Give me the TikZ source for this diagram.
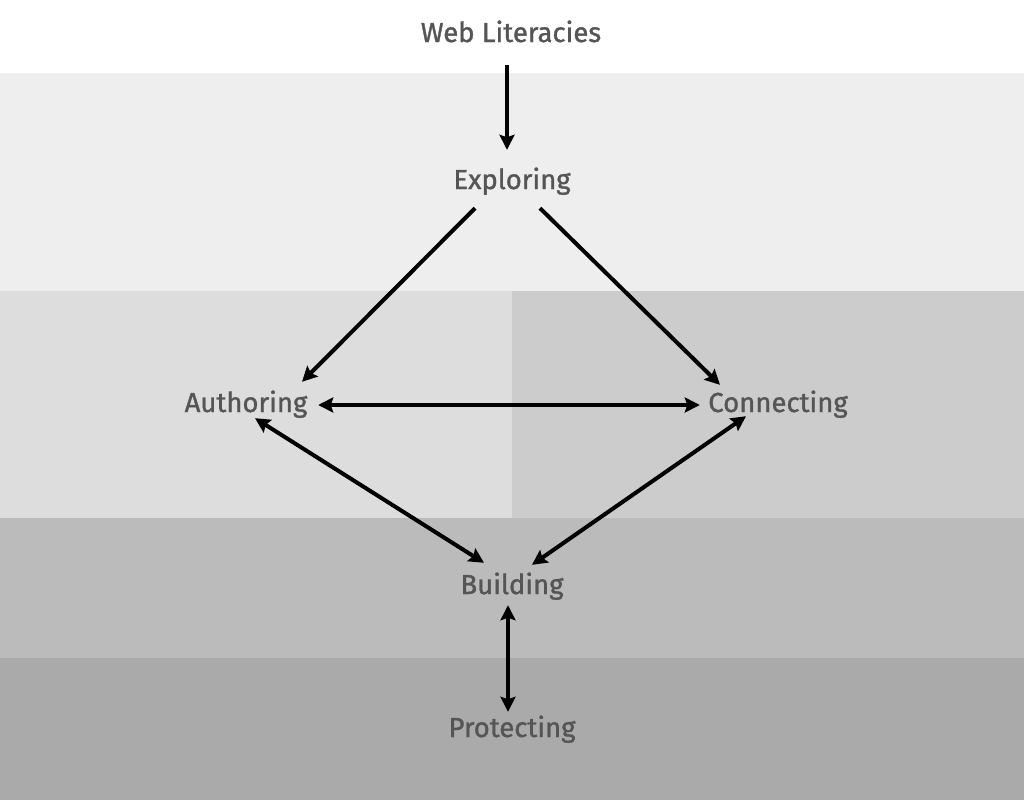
\documentclass[tikz,border=0pt]{standalone}
\usepackage{fontspec}
\setmainfont{Fira Sans}[FakeBold=1.2]
\usepackage{xcolor}
\usepackage{tikz}
\usetikzlibrary{arrows.meta}
\definecolor{bandA}{HTML}{EEEEEE}
\definecolor{bandB}{HTML}{DDDDDD}
\definecolor{bandC}{HTML}{CCCCCC}
\definecolor{bandD}{HTML}{BBBBBB}
\definecolor{bandE}{HTML}{AAAAAA}
\definecolor{lbl}{HTML}{555555}

\begin{document}
\begin{tikzpicture}[x=1pt, y=-1pt, >={Stealth[length=15pt,width=15pt,inset=2.5pt]},
    lit/.style={inner sep=0pt, text=lbl, text height=25pt, text depth=5pt,
      font=\fontsize{27.5}{30}\selectfont},
    link/.style={line width=4pt, ->},
    both/.style={line width=4pt, <->}]
    \useasboundingbox (0,0) rectangle (1024,800);
    % bands
    \fill[white] (0,0) rectangle (1024,73);
    \fill[bandA] (0,73) rectangle (1024,291);
    \fill[bandB] (0,291) rectangle (512,518);
    \fill[bandC] (512,291) rectangle (1024,518);
    \fill[bandD] (0,518) rectangle (1024,658);
    \fill[bandE] (0,658) rectangle (1024,800);

    \node[lit, minimum height=66pt] (web) at (511, 32) {Web Literacies};
    \node[lit, minimum height=58pt] (ex) at (512, 179) {Exploring};
    \node[lit, minimum width=144pt, minimum height=40pt] (au) at (246, 402) {Authoring};
    \node[lit, minimum width=156pt, minimum height=40pt] (co) at (778, 402) {Connecting};
    \node[lit, minimum height=42pt] (bu) at (512, 584) {Building};
    \node[lit, minimum height=24pt] (pr) at (512, 727) {Protecting};

    \draw[link] ([xshift=-4pt]web.south) -- ([xshift=-5pt]ex.north);
    \draw[link] ([xshift=-37pt]ex.south) -- ([xshift=56pt]au.north);
    \draw[link] ([xshift=28pt]ex.south) -- ([xshift=-58pt,yshift=-3pt]co.north);
    \draw[both] ([yshift=-3pt]au.east) -- ([yshift=-3pt]co.west);
    \draw[both] ([xshift=9pt,yshift=4pt]au.south) -- ([xshift=-28pt]bu.north);
    \draw[both] ([xshift=-32pt,yshift=6pt]co.south) -- ([xshift=20pt,yshift=-2pt]bu.north);
    \draw[both] ([xshift=-4pt]bu.south) -- ([xshift=-4pt]pr.north);
\end{tikzpicture}
\end{document}
